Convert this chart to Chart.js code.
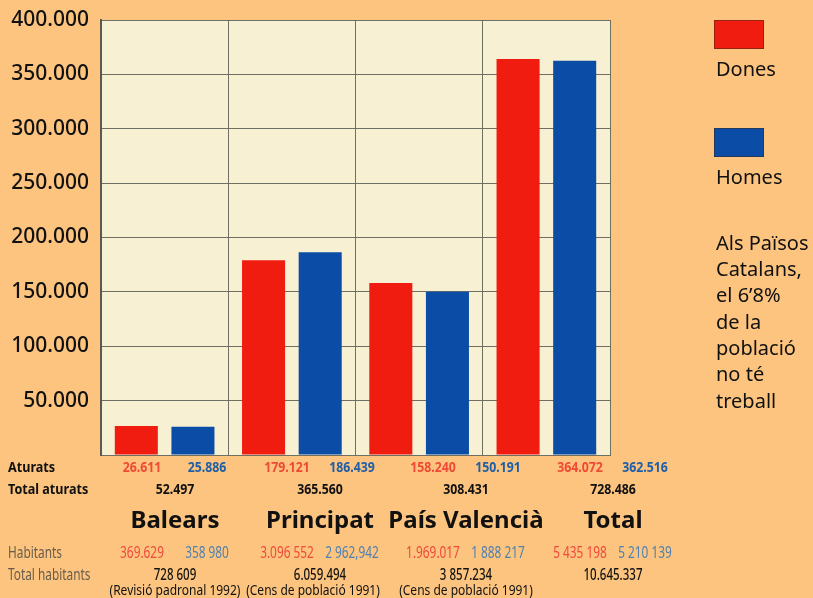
<!DOCTYPE html>
<html>
<head>
<meta charset="utf-8">
<script src="https://cdn.jsdelivr.net/npm/chart.js@4/dist/chart.umd.min.js"></script>
<style>
  html, body { margin: 0; padding: 0; background: #fcc47e; }
  #wrap { width: 813px; height: 598px; position: relative; }
</style>
</head>
<body>
<div id="wrap"><canvas id="chart" width="813" height="598"></canvas></div>
<script>
// regions and unemployed (aturats) by sex
var regions = ['Balears', 'Principat', 'País Valencià', 'Total'];
var dones = [26611, 179121, 158240, 364072];
var homes = [25886, 186439, 150191, 362516];

// table text under the chart
var aturatsDones = ['26.611', '179.121', '158.240', '364.072'];
var aturatsHomes = ['25.886', '186.439', '150.191', '362.516'];
var totalAturats = ['52.497', '365.560', '308.431', '728.486'];
var habitantsDones = ['369.629', '3.096 552', '1.969.017', '5 435 198'];
var habitantsHomes = ['358 980', '2 962,942', '1 888 217', '5 210 139'];
var totalHabitants = ['728 609', '6.059.494', '3 857.234', '10.645.337'];
var fonts = ['(Revisió padronal 1992)', '(Cens de població 1991)', '(Cens de població 1991)', ''];
var nota = ['Als Països', 'Catalans,', 'el 6\u20198%', 'de la', 'població', 'no té', 'treball'];

var RED = '#f01c10';
var BLUE = '#0b4ca6';
var FONT = '"Noto Sans", "Open Sans", sans-serif';

// table columns sit on their own grid, not on the bars
var colX = [175, 320, 466, 613];

// the printed table uses a condensed face, squeeze the text a bit
function narrow(ctx, text, x, y, sx) {
    ctx.save();
    ctx.translate(x, y);
    ctx.scale(sx, 1);
    ctx.fillText(text, 0, 0);
    ctx.restore();
}

var bgPlugin = {
    id: 'bg',
    beforeDraw: function(chart) {
        var ctx = chart.ctx, a = chart.chartArea;
        ctx.save();
        ctx.fillStyle = '#fcc47e';
        ctx.fillRect(0, 0, chart.width, chart.height);
        ctx.fillStyle = '#f8f0d2';
        ctx.fillRect(a.left, a.top, a.right - a.left, a.bottom - a.top);
        ctx.restore();
    }
};

var tablePlugin = {
    id: 'table',
    afterDraw: function(chart) {
        var ctx = chart.ctx;
        ctx.save();
        ctx.textBaseline = 'middle';

        ctx.textAlign = 'left';
        ctx.fillStyle = '#111';
        ctx.font = 'bold 14px ' + FONT;
        narrow(ctx, 'Aturats', 8, 468, 0.9);
        narrow(ctx, 'Total aturats', 8, 490, 0.9);
        ctx.fillStyle = '#6a5c4c';
        ctx.font = '16px ' + FONT;
        narrow(ctx, 'Habitants', 8, 553, 0.74);
        narrow(ctx, 'Total habitants', 8, 575, 0.74);

        ctx.textAlign = 'center';
        for (var i = 0; i < regions.length; i++) {
            var x = colX[i];
            ctx.font = 'bold 14px ' + FONT;
            ctx.fillStyle = '#f04a36';
            narrow(ctx, aturatsDones[i], x - 33, 468, 0.88);
            ctx.fillStyle = '#1f5fa8';
            narrow(ctx, aturatsHomes[i], x + 32, 468, 0.88);
            ctx.fillStyle = '#111';
            narrow(ctx, totalAturats[i], x, 490, 0.88);

            ctx.font = 'bold 24px ' + FONT;
            ctx.fillText(regions[i], x, 521);

            ctx.font = '16px ' + FONT;
            ctx.fillStyle = '#f0483c';
            narrow(ctx, habitantsDones[i], x - 33, 553, 0.74);
            ctx.fillStyle = '#4e80b0';
            narrow(ctx, habitantsHomes[i], x + 32, 553, 0.74);
            ctx.fillStyle = '#111';
            ctx.font = '500 16px ' + FONT;
            narrow(ctx, totalHabitants[i], x, 575, 0.72);
            ctx.font = '15px ' + FONT;
            narrow(ctx, fonts[i], x - (i == 1 ? 7 : 0), 591, 0.8);
        }

        // legend on the right
        var ds = chart.data.datasets;
        var ly = [20, 128];
        ctx.textAlign = 'left';
        for (var j = 0; j < ds.length; j++) {
            ctx.fillStyle = ds[j].backgroundColor;
            ctx.fillRect(714, ly[j], 50, 29);
            ctx.strokeStyle = 'rgba(60,40,20,0.5)';
            ctx.lineWidth = 1;
            ctx.strokeRect(714.5, ly[j] + 0.5, 49, 28);
            ctx.fillStyle = '#111';
            ctx.font = '20px ' + FONT;
            ctx.fillText(ds[j].label, 716, ly[j] + 50);
        }
        for (var k = 0; k < nota.length; k++) {
            ctx.fillText(nota[k], 716, 244 + k * 26.3);
        }
        ctx.restore();
    }
};

new Chart(document.getElementById('chart'), {
    type: 'bar',
    data: {
        labels: regions,
        datasets: [
            { label: 'Dones', data: dones, backgroundColor: RED },
            { label: 'Homes', data: homes, backgroundColor: BLUE }
        ]
    },
    options: {
        responsive: false,
        animation: false,
        events: [],
        layout: { padding: { top: 20, right: 203, bottom: 143, left: 0 } },
        categoryPercentage: 0.89,
        barPercentage: 0.76,
        plugins: {
            legend: { display: false },
            tooltip: { enabled: false }
        },
        scales: {
            x: {
                ticks: { display: false },
                grid: { color: '#6e6e62', lineWidth: 1, drawTicks: false, offset: true },
                border: { color: '#6e6e62', width: 1 }
            },
            y: {
                min: 0,
                max: 400000,
                afterFit: function(scale) {
                    scale.width = 101;
                    scale.paddingTop = 0;
                    scale.paddingBottom = 0;
                },
                ticks: {
                    stepSize: 50000,
                    padding: 12,
                    color: '#111',
                    font: { family: FONT, size: 21, weight: '500' },
                    callback: function(v) {
                        if (v === 0) return '';
                        return (v / 1000) + '.000';
                    }
                },
                grid: { color: '#6e6e62', lineWidth: 1, drawTicks: false },
                border: { color: '#5a5a50', width: 2 }
            }
        }
    },
    plugins: [bgPlugin, tablePlugin]
});
</script>
</body>
</html>
